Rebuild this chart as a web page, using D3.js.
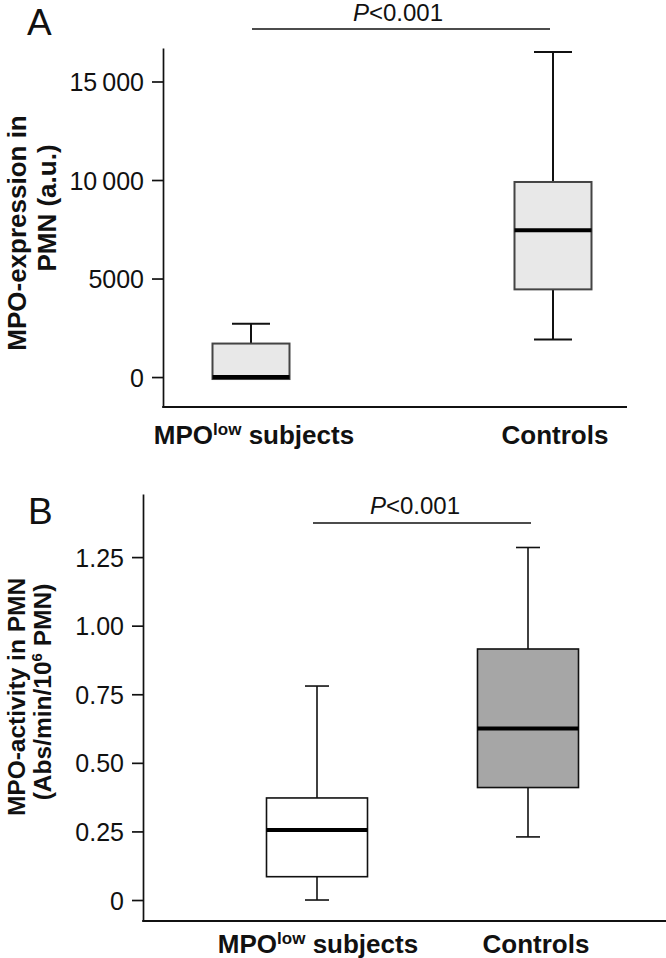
<!DOCTYPE html>
<html><head><meta charset="utf-8">
<script src="https://cdn.jsdelivr.net/npm/d3@7"></script>
<style>
body{margin:0;background:#fff;}
svg{display:block;}
text{font-family:'Liberation Sans',Arial,sans-serif;}
</style></head>
<body>
<script>
const categories = ["MPOlow subjects", "Controls"];
// Panel A: MPO-expression (a.u.)
const expWhiskerLow = [-100, 1900];
const expQ1 = [-100, 4450];
const expMedian = [0, 7450];
const expQ3 = [1700, 9900];
const expWhiskerHigh = [2700, 16500];
const expTicks = [0, 5000, 10000, 15000];
const expTickLabels = ["0", "5000", "10\u2009000", "15\u2009000"];
// Panel B: MPO-activity (Abs/min/10^6 PMN)
const actWhiskerLow = [0, 0.23];
const actQ1 = [0.085, 0.41];
const actMedian = [0.255, 0.625];
const actQ3 = [0.372, 0.915];
const actWhiskerHigh = [0.78, 1.285];
const actTicks = [0, 0.25, 0.5, 0.75, 1.0, 1.25];
const actTickLabels = ["0", "0.25", "0.50", "0.75", "1.00", "1.25"];

const W = 666, H = 958;
const svg = d3.select("body").append("svg").attr("width", W).attr("height", H);

function panel(cfg) {
  const g = svg.append("g");
  const y = d3.scaleLinear().domain(cfg.domain).range([cfg.yBottom, cfg.yTop]);
  const x = d3.scalePoint().domain(categories).range(cfg.xCenters);
  const yAxis = d3.axisLeft(y).tickValues(cfg.ticks).tickFormat((d, i) => cfg.tickLabels[i])
    .tickSize(11).tickSizeOuter(0).tickPadding(8);
  const ya = g.append("g").attr("transform", `translate(${cfg.xAxisLeft},0)`).call(yAxis);
  ya.select(".domain").attr("stroke", "#111").attr("stroke-width", 1.7);
  ya.selectAll(".tick line").attr("stroke", "#111").attr("stroke-width", 1.7);
  ya.selectAll(".tick text").attr("font-family", "'Liberation Sans',Arial,sans-serif")
    .attr("font-size", 25).attr("fill", "#111").attr("dy", "0.36em");
  g.append("line").attr("x1", cfg.xAxisLeft - 0.8).attr("x2", cfg.xAxisRight)
    .attr("y1", cfg.yBottom).attr("y2", cfg.yBottom).attr("stroke", "#111").attr("stroke-width", 1.8);
  categories.forEach((c, i) => {
    const cx = x(c);
    const s = cfg.stats;
    const line = (x1, x2, y1, y2) => g.append("line").attr("x1", x1).attr("x2", x2).attr("y1", y1).attr("y2", y2)
      .attr("stroke", "#111").attr("stroke-width", cfg.lw);
    line(cx, cx, y(s.q3[i]), y(s.hi[i]));
    line(cx, cx, y(s.q1[i]), y(s.lo[i]));
    line(cx - cfg.capW / 2, cx + cfg.capW / 2, y(s.hi[i]), y(s.hi[i]));
    if (s.lo[i] < s.q1[i]) line(cx - cfg.capW / 2, cx + cfg.capW / 2, y(s.lo[i]), y(s.lo[i]));
    g.append("rect").attr("x", cx - cfg.boxW / 2).attr("width", cfg.boxW)
      .attr("y", y(s.q3[i])).attr("height", y(s.q1[i]) - y(s.q3[i]))
      .attr("fill", cfg.fills[i]).attr("stroke", cfg.boxStroke).attr("stroke-width", cfg.lw);
    g.append("line").attr("x1", cx - cfg.boxW / 2).attr("x2", cx + cfg.boxW / 2).attr("y1", y(s.med[i])).attr("y2", y(s.med[i]))
      .attr("stroke", "#000").attr("stroke-width", 4);
    const t = g.append("text").attr("x", cx + cfg.labelShift[i]).attr("y", cfg.labelY)
      .attr("text-anchor", "middle").attr("font-size", 26).attr("font-weight", "bold").attr("fill", "#111");
    if (c === "MPOlow subjects") {
      t.append("tspan").text("MPO");
      t.append("tspan").text("low").attr("font-size", 17).attr("dy", -9);
      t.append("tspan").text(" subjects").attr("dy", 9);
    } else t.text(c);
  });
  g.append("line").attr("x1", cfg.sig[0]).attr("x2", cfg.sig[1]).attr("y1", cfg.sigY).attr("y2", cfg.sigY)
    .attr("stroke", "#111").attr("stroke-width", 1.5);
  const pt = g.append("text").attr("x", cfg.pX).attr("y", cfg.pY).attr("text-anchor", "middle")
    .attr("font-size", 24).attr("fill", "#111");
  pt.append("tspan").attr("font-style", "italic").text("P");
  pt.append("tspan").text("<0.001");
  g.append("text").attr("x", cfg.letter[0]).attr("y", cfg.letter[1]).text(cfg.letterText)
    .attr("font-size", 37).attr("fill", "#111");
  cfg.ylab(g);
}

function rotLabel(g, cx, cy, size, parts) {
  const t = g.append("text").attr("transform", `translate(${cx},${cy}) rotate(-90)`)
    .attr("text-anchor", "middle").attr("font-weight", "bold").attr("font-size", size).attr("fill", "#111");
  parts(t);
}

panel({
  domain: [-1520, 16700], yBottom: 407, yTop: 48, xAxisLeft: 163, xAxisRight: 627,
  xCenters: [251, 553], ticks: expTicks, tickLabels: expTickLabels,
  stats: {lo: expWhiskerLow, q1: expQ1, med: expMedian, q3: expQ3, hi: expWhiskerHigh},
  lw: 2, capW: 38, boxW: 77, boxStroke: "#444", fills: ["#e8e8e8", "#e8e8e8"],
  labelY: 444, labelShift: [3, 2], sig: [252, 550], sigY: 29, pX: 398, pY: 21,
  letter: [27, 35], letterText: "A",
  ylab: g => {
    rotLabel(g, 26, 233, 26, t => t.text("MPO-expression in"));
    rotLabel(g, 56, 208, 26, t => t.text("PMN (a.u.)"));
  }
});

panel({
  domain: [-0.0765, 1.48], yBottom: 921, yTop: 494, xAxisLeft: 143, xAxisRight: 666,
  xCenters: [317, 528], ticks: actTicks, tickLabels: actTickLabels,
  stats: {lo: actWhiskerLow, q1: actQ1, med: actMedian, q3: actQ3, hi: actWhiskerHigh},
  lw: 1.6, capW: 24, boxW: 101, boxStroke: "#111", fills: ["#ffffff", "#a6a6a6"],
  labelY: 953, labelShift: [1, 8], sig: [313, 531], sigY: 523, pX: 415, pY: 514,
  letter: [28, 524], letterText: "B",
  ylab: g => {
    rotLabel(g, 25, 697, 24.5, t => t.text("MPO-activity in PMN"));
    rotLabel(g, 51, 692, 24.5, t => {
      t.append("tspan").text("(Abs/min/10");
      t.append("tspan").attr("font-size", 15).attr("dy", -9).text("6");
      t.append("tspan").attr("dy", 9).text(" PMN)");
    });
  }
});
</script>
</body></html>
